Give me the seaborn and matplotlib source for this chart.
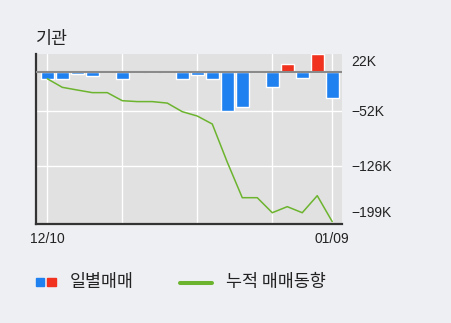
import matplotlib
matplotlib.use('Agg')
import matplotlib.pyplot as plt
import seaborn as sns
import pandas as pd
from matplotlib.patches import Rectangle
from matplotlib.lines import Line2D

# ---- data (values in thousands) ----
daily = [-9.4, -9.4, -2.7, -5.4, 0.0, -9.4, 0.0, 0.0, 0.0, -10.2,
         -4.5, -10.2, -52.6, -47.2, 0.0, -20.0, 10.3, -8.0, 23.5, -34.8]
cumulative = [-9.4, -20.9, -24.5, -28.0, -28.0, -38.8, -40.0, -40.0, -42.0, -53.5,
              -59.3, -70.0, -121.0, -168.6, -168.6, -188.7, -180.6, -188.7, -165.9, -200.7]
y_ticks = [22, -52, -126, -199]
x_tick_labels = ['12/10', '01/09']
title = '기관'
legend_labels = ['일별매매', '누적 매매동향']

# ---- style ----
BLUE = '#1f80f0'
RED = '#f0321e'
GREEN = '#6cb42e'
FIG_BG = '#eeeff3'
AX_BG = '#e1e1e1'
KFONT = ['Noto Sans CJK KR', 'Liberation Sans', 'DejaVu Sans']
NFONT = ['Liberation Sans', 'DejaVu Sans']

sns.set_style('white')
plt.rcParams['font.family'] = NFONT

W, H = 451, 323
fig = plt.figure(figsize=(W / 100, H / 100), dpi=100, facecolor=FIG_BG)
ax = fig.add_axes([36 / W, 1 - 224 / H, (341.7 - 36) / W, (224 - 54) / H])
ax.set_facecolor(AX_BG)

n = len(daily)
df = pd.DataFrame({
    'idx': list(range(n)),
    'val': daily,
    'cum': cumulative,
    'sign': ['pos' if v > 0 else 'neg' for v in daily],
})

# grid lines
grid_x = [0, 5, 10, 15, n - 1]
for gx in grid_x:
    ax.axvline(gx, color='white', lw=1.0, zorder=0.5)
for gy in y_ticks[1:3]:
    ax.axhline(gy, color='white', lw=1.0, zorder=0.5)

sns.barplot(data=df, x='idx', y='val', hue='sign',
            palette={'pos': RED, 'neg': BLUE}, native_scale=True,
            width=0.85, dodge=False, legend=False, saturation=1,
            ax=ax, zorder=2)
ax.axhline(0, color='#8a8a8a', lw=1.5, zorder=3)
sns.lineplot(data=df, x='idx', y='cum', color=GREEN, lw=1.1, ax=ax, zorder=4)

ax.set_xlim(-0.753, 19.63)
ax.set_ylim(-203.8, 23.7)
ax.set_xlabel('')
ax.set_ylabel('')
ax.grid(False)

ax.yaxis.tick_right()
ax.set_yticks(y_ticks)
ax.set_yticklabels([f'{v}K'.replace('-', '\u2212') for v in y_ticks])
ax.tick_params(axis='y', length=0, pad=7, labelsize=10, colors='#222222')
ylabels = ax.get_yticklabels()
ylabels[0].set_va('top')
ylabels[-1].set_va('bottom')

ax.set_xticks([0, n - 1])
ax.set_xticklabels(x_tick_labels)
ax.tick_params(axis='x', length=0, pad=6, labelsize=10, colors='#222222')

for s in ['top', 'right']:
    ax.spines[s].set_visible(False)
for s in ['left', 'bottom']:
    ax.spines[s].set_color('#333333')
    ax.spines[s].set_linewidth(1.6)

ax.set_title(title, loc='left', fontsize=12.5, pad=7, family=KFONT, color='#222222')

# ---- legend ----
fig.patches.append(Rectangle((35.7 / W, 1 - 286 / H), 8.6 / W, 8 / H,
                             transform=fig.transFigure, color=BLUE))
fig.patches.append(Rectangle((47.3 / W, 1 - 286 / H), 8.6 / W, 8 / H,
                             transform=fig.transFigure, color=RED))
fig.text(69.3 / W, 1 - 281.5 / H, legend_labels[0], va='center', ha='left',
         fontsize=12.5, family=KFONT, color='#222222')
fig.lines.append(Line2D([180 / W, 211.7 / W], [1 - 282.7 / H] * 2, lw=2.9,
                        color=GREEN, transform=fig.transFigure))
fig.text(226 / W, 1 - 281.5 / H, legend_labels[1], va='center', ha='left',
         fontsize=12.5, family=KFONT, color='#222222')

fig.savefig('out.png', dpi=100, facecolor=FIG_BG)
